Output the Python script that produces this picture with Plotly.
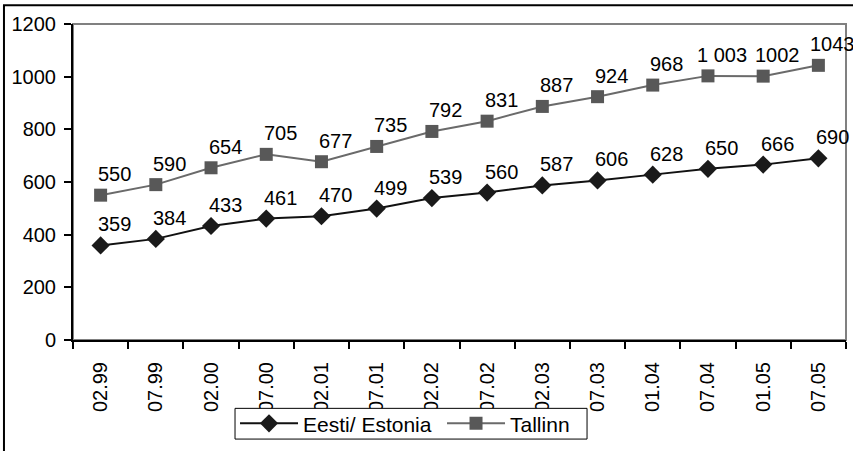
import plotly.graph_objects as go

periods = ["02.99", "07.99", "02.00", "07.00", "02.01", "07.01", "02.02",
           "07.02", "02.03", "07.03", "01.04", "07.04", "01.05", "07.05"]
estonia = [359, 384, 433, 461, 470, 499, 539, 560, 587, 606, 628, 650, 666, 690]
tallinn = [550, 590, 654, 705, 677, 735, 792, 831, 887, 924, 968, 1003, 1002, 1043]
tallinn_labels = ["550", "590", "654", "705", "677", "735", "792", "831", "887",
                  "924", "968", "1 003", "1002", "1043"]
estonia_labels = [str(v) for v in estonia]

FONT = "Liberation Sans, Arial, sans-serif"
fig = go.Figure()

fig.add_trace(go.Scatter(
    x=periods, y=estonia, name="Eesti/ Estonia", mode="lines+markers",
    line=dict(color="#111111", width=2),
    marker=dict(symbol="diamond", size=14, color="#1a1a1a"),
))
fig.add_trace(go.Scatter(
    x=periods, y=tallinn, name="Tallinn", mode="lines+markers",
    line=dict(color="#6a6a6a", width=2),
    marker=dict(symbol="square", size=13, color="#585858"),
))

# data labels, above and a bit right of each point (x given as category index)
for vals, labs in [(estonia, estonia_labels), (tallinn, tallinn_labels)]:
    for i, (v, t) in enumerate(zip(vals, labs)):
        fig.add_annotation(x=i, y=v, text=t, showarrow=False,
                           xshift=14, yshift=21,
                           font=dict(family=FONT, size=20, color="black"))

# plot-area frame (grey), legend box (white, covers tick label ends), outer frame
fig.add_shape(type="rect", xref="paper", yref="paper", x0=0, x1=1, y0=0, y1=1,
              line=dict(color="#808080", width=2), layer="below")
fig.add_shape(type="rect", xref="paper", yref="paper",
              x0=0.2096, x1=0.665, y0=-0.3135, y1=-0.2163,
              line=dict(color="black", width=1), fillcolor="white", layer="above")
fig.add_shape(type="rect", xref="paper", yref="paper",
              x0=-0.0893, x1=1.02, y0=-0.5, y1=1.0596,
              line=dict(color="black", width=2))

fig.update_layout(
    width=853, height=451,
    margin=dict(l=73, r=7, t=24, b=108),
    paper_bgcolor="white", plot_bgcolor="white",
    font=dict(family=FONT, size=20, color="black"),
    showlegend=True,
    legend=dict(orientation="h", x=0.2096, y=-0.2649, xanchor="left", yanchor="middle",
                borderwidth=0, bgcolor="rgba(0,0,0,0)",
                font=dict(size=21), itemwidth=58, entrywidth=134),
)
fig.update_xaxes(
    type="category", range=[-0.5, len(periods) - 0.5],
    tickangle=-90, tickson="boundaries", automargin=False,
    ticks="outside", ticklen=7, tickwidth=2, tickcolor="black",
    ticklabelstandoff=12,
    showline=True, linecolor="black", linewidth=2, showgrid=False,
    tickfont=dict(size=20),
)
fig.update_yaxes(
    range=[0, 1200], dtick=200, ticks="outside", ticklen=7, tickwidth=2,
    automargin=False, ticklabelstandoff=4,
    tickcolor="black", showline=True, linecolor="black", linewidth=2,
    showgrid=False, zeroline=False, tickfont=dict(size=20),
)

# drop the browser's default page margin so the figure sits at the window origin
fig.write_html("out.html", config={"displayModeBar": False},
               post_script="document.body.style.margin='0';"
                           "document.body.style.overflow='hidden';")
